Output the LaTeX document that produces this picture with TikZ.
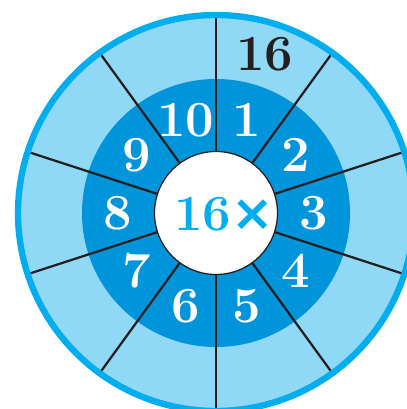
\documentclass[tikz,border=0pt]{standalone}
\usepackage{fontspec}
\newfontfamily\crossfont{DejaVu Sans}
\usetikzlibrary{calc}
\definecolor{ringlight}{RGB}{143, 216, 246}
\definecolor{ringdark}{RGB}{0, 149, 218}
\definecolor{rimblue}{RGB}{0, 174, 239}
\definecolor{inkblack}{RGB}{35, 31, 32}

\begin{document}
\begin{tikzpicture}[
  x=0.025cm, y=0.025cm,
  spoke/.style={inkblack, line width=1.6pt},
  bignum/.style={font=\fontsize{36}{36}\selectfont\bfseries, inner sep=0pt},
  num/.style={bignum, text=white}
]

\useasboundingbox (0,0) rectangle (407,409);
\clip (0,0) rectangle (407,409);

\coordinate (c) at (216,196);

%% ===== rings =====
\fill[ringlight] (c) circle (198);
\fill[ringdark] (c) circle (134);

%% centre disc
\node[circle, draw=inkblack, line width=0.9pt, fill=white, minimum size=3.075cm, inner sep=0pt] (hub) at (c) {};

%% ===== spokes =====
\foreach \a in {18, 54, ..., 342}
  \draw[spoke] (hub.\a) -- ($(c)+(\a:197)$);

%% outer rim
\draw[rimblue, line width=4.5pt] (c) circle (198);

%% ===== numbers 1..10 =====
\foreach \k in {1, ..., 10}
  \node[num] (n\k) at ($(c)+({72-36*(\k-1)}:98)$) {\k};

%% table label and centre text
\node[bignum, text=inkblack] (tab) at ($(c)+(73:166)$) {16};
\node[bignum, text=rimblue] (mult) at ($(c)+(8,-1)$) {16{\crossfont\fontsize{36}{36}\selectfont ×}};

\end{tikzpicture}
\end{document}
